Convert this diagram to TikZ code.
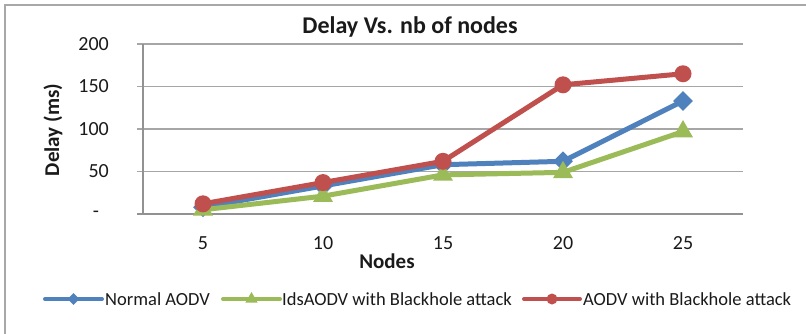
\documentclass[tikz,border=0pt]{standalone}
\usepackage{fontspec}
\setmainfont{Carlito}
\usepackage{tikz}
\usetikzlibrary{shapes.geometric,calc}
\definecolor{figblue}{HTML}{4F81BD}
\definecolor{figgreen}{HTML}{9BBB59}
\definecolor{figred}{HTML}{C0504D}
\definecolor{figgrid}{HTML}{A6A6A6}
\definecolor{figaxis}{HTML}{929292}
\definecolor{figframe}{HTML}{A8A8A8}
\definecolor{figtext}{HTML}{1A1A1A}

\begin{document}
\begin{tikzpicture}[x=1pt,y=-1pt,
  gridline/.style={draw=figgrid, line width=1.3pt},
  axisline/.style={draw=figaxis, line width=1.5pt},
  series/.style={line width=5pt, line join=round, line cap=round},
  keyline/.style={line width=4pt, line cap=round},
  ticklabel/.style={text=figtext, font=\fontsize{20}{24}\selectfont, inner sep=0pt},
  axistitle/.style={text=figtext, font=\fontsize{21}{25}\selectfont\bfseries, inner sep=0pt},
  keylabel/.style={text=figtext, font=\fontsize{18.5}{22}\selectfont, inner sep=0pt, anchor=west},
  bluemark/.style={diamond, fill=figblue, inner sep=0pt, minimum size=#1},
  greenmark/.style={regular polygon, regular polygon sides=3, fill=figgreen, inner sep=0pt, minimum size=#1},
  redmark/.style={circle, fill=figred, inner sep=0pt, minimum size=#1}]

\path[clip] (0,0) rectangle (806,333);
\fill[white] (0,0) rectangle (806,333);
\draw[figframe, line width=1.5pt] (5,5) rectangle (820,345);

\node[text=figtext, font=\fontsize{24}{28}\selectfont\bfseries, anchor=base, inner sep=0pt] (title) at (410,33)
  {Delay Vs. nb of nodes};

\begin{scope}[shift={(143,214)}, x=120pt, y=0.85pt]
  \foreach \v in {50,100,150,200} {
    \draw[gridline] (-0.05,\v) -- (5,\v);
    \node[ticklabel, anchor=east] (ytick\v) at (-0.283,\v) {\v};
  }
  \draw[axisline] (0,0) -- (0,200);
  \draw[axisline] (-0.05,0) -- (5,0);
  \node[ticklabel] (ytick0) at (-0.392,0) {-};

  \foreach \n [count=\i] in {5,10,15,20,25}
    \node[ticklabel] (xtick\i) at (\i-0.5,-34) {\n};

  % data points
  \foreach \v [count=\i] in {8,33,58,62,133}
    \coordinate (b\i) at (\i-0.5,\v);
  \foreach \v [count=\i] in {5,21,46,49,97}
    \coordinate (g\i) at (\i-0.5,\v);
  \foreach \v [count=\i] in {12,37,62,152,165}
    \coordinate (r\i) at (\i-0.5,\v);
\end{scope}

\node[axistitle, rotate=90] (ytitle) at (53,130) {Delay (ms)};
\node[axistitle] (xtitle) at (387,261) {Nodes};

\draw[series, figblue] (b1) \foreach \i in {2,...,5} { -- (b\i) };
\foreach \i in {1,...,5}
  \node[bluemark=20pt] (bm\i) at (b\i) {};
\draw[series, figgreen] (g1) \foreach \i in {2,...,5} { -- (g\i) };
\foreach \i in {1,...,5}
  \node[greenmark=23pt] (gm\i) at (g\i) {};
\draw[series, figred] (r1) \foreach \i in {2,...,5} { -- (r\i) };
\foreach \i in {1,...,5}
  \node[redmark=17pt] (rm\i) at (r\i) {};

% legend
\coordinate (kb1) at (45,299);  \coordinate (kb2) at (102,299);
\coordinate (kg1) at (223,299); \coordinate (kg2) at (280,299);
\coordinate (kr1) at (524,299); \coordinate (kr2) at (580,299);
\draw[keyline, figblue] (kb1) -- (kb2);
\node[bluemark=12pt] (kbm) at ($(kb1)!0.5!(kb2)$) {};
\node[keylabel] (kbt) at (105,299) {Normal AODV};
\draw[keyline, figgreen] (kg1) -- (kg2);
\node[greenmark=14pt] (kgm) at ($(kg1)!0.5!(kg2)$) {};
\node[keylabel] (kgt) at (282,299) {IdsAODV with Blackhole attack};
\draw[keyline, figred] (kr1) -- (kr2);
\node[redmark=11pt] (krm) at ($(kr1)!0.5!(kr2)$) {};
\node[keylabel] (krt) at (583,299) {AODV with Blackhole attack};
\end{tikzpicture}
\end{document}
